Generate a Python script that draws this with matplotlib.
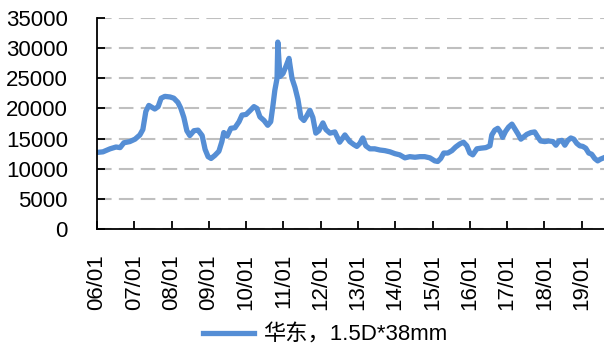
import numpy as np
import matplotlib.pyplot as plt

plt.rcParams['font.family'] = ['Liberation Sans', 'Noto Sans CJK SC', 'DejaVu Sans']

# price (time in decimal years)
t = [2006.00, 2006.16, 2006.35, 2006.51, 2006.62, 2006.72, 2006.88, 2007.02, 2007.15, 2007.23,
     2007.31, 2007.39, 2007.47, 2007.55, 2007.64, 2007.72, 2007.82, 2007.96, 2008.06, 2008.17,
     2008.25, 2008.33, 2008.41, 2008.49, 2008.60, 2008.71, 2008.82, 2008.90, 2008.98, 2009.06,
     2009.16, 2009.27, 2009.35, 2009.40, 2009.49, 2009.59, 2009.70, 2009.81, 2009.89, 2010.00,
     2010.10, 2010.21, 2010.29, 2010.37, 2010.48, 2010.58, 2010.66, 2010.72, 2010.77, 2010.83,
     2010.85, 2010.88, 2010.91, 2010.99, 2011.07, 2011.15, 2011.23, 2011.31, 2011.39, 2011.47,
     2011.55, 2011.63, 2011.71, 2011.79, 2011.87, 2011.95, 2012.06, 2012.14, 2012.25, 2012.38,
     2012.51, 2012.65, 2012.78, 2012.89, 2012.97, 2013.05, 2013.13, 2013.21, 2013.32, 2013.45,
     2013.59, 2013.72, 2013.86, 2013.99, 2014.12, 2014.26, 2014.39, 2014.53, 2014.66, 2014.79,
     2014.93, 2015.06, 2015.14, 2015.22, 2015.30, 2015.41, 2015.52, 2015.62, 2015.73, 2015.83,
     2015.92, 2016.00, 2016.08, 2016.19, 2016.29, 2016.43, 2016.54, 2016.59, 2016.67, 2016.75,
     2016.83, 2016.88, 2016.96, 2017.04, 2017.13, 2017.21, 2017.29, 2017.37, 2017.45, 2017.53,
     2017.64, 2017.74, 2017.82, 2017.90, 2018.01, 2018.12, 2018.23, 2018.31, 2018.39, 2018.47,
     2018.55, 2018.63, 2018.71, 2018.79, 2018.87, 2018.95, 2019.03, 2019.11, 2019.19, 2019.27,
     2019.35, 2019.43, 2019.51, 2019.59]
price = [12700, 12800, 13300, 13600, 13500, 14300, 14500, 14900, 15600, 16500,
         19500, 20500, 20200, 19900, 20300, 21700, 22000, 21900, 21700, 21000,
         20000, 18500, 16300, 15500, 16300, 16400, 15500, 13200, 12000, 11700,
         12200, 12900, 14500, 16000, 15400, 16700, 16800, 17800, 18900, 19000,
         19600, 20300, 20000, 18600, 18000, 17200, 17800, 20500, 23000, 25000,
         31000, 28000, 25300, 25800, 27000, 28300, 25000, 23500, 21500, 18500,
         18000, 18800, 19700, 18500, 15900, 16300, 17600, 16500, 15900, 16100,
         14400, 15600, 14500, 14000, 13700, 14200, 15100, 13800, 13300, 13300,
         13100, 13000, 12800, 12500, 12300, 11800, 12000, 11900, 12000, 12000,
         11800, 11300, 11200, 11700, 12600, 12600, 13000, 13600, 14100, 14400,
         13800, 12600, 12300, 13300, 13400, 13500, 13800, 15600, 16400, 16700,
         16000, 15200, 16200, 16900, 17400, 16600, 15800, 14900, 15300, 15700,
         16000, 16100, 15300, 14600, 14500, 14600, 14500, 13900, 14600, 14700,
         13900, 14700, 15100, 14900, 14200, 13800, 13700, 13400, 12600, 12400,
         11700, 11300, 11600, 11800]

years = list(range(2006, 2020))
year_labels = ['%02d/01' % (y % 100) for y in years]
series_name = '华东，1.5D*38mm'

fig = plt.figure(figsize=(6.04, 3.51), dpi=100)
ax = fig.add_axes([0.1606, 0.3476, 0.8394, 0.6011])

line, = ax.plot(t, price, color='#558ED5', lw=3.8, solid_joinstyle='round')

ax.set_ylim(0, 35000)
ax.set_xlim(2006, 2019.6)
ax.set_yticks(np.arange(0, 35001, 5000))
ax.set_xticks(years)
ax.set_xticklabels(year_labels, rotation=90)

ax.grid(axis='y', color='#BFBFBF', lw=1.5, linestyle=(0, (7, 3.5)))
ax.set_axisbelow(True)
for s in ['top', 'right']:
    ax.spines[s].set_visible(False)
for s in ['left', 'bottom']:
    ax.spines[s].set_linewidth(1.3)
ax.tick_params(axis='both', direction='in', length=6, width=1.3, labelsize=16)
ax.tick_params(axis='x', pad=18)
ax.tick_params(axis='y', pad=21)

fig.legend([line], [series_name], loc='center', bbox_to_anchor=(325 / 604, 1 - 335 / 351),
           frameon=False, fontsize=16, handlelength=2.3, handletextpad=0.4)

fig.savefig('out.png', dpi=100)
